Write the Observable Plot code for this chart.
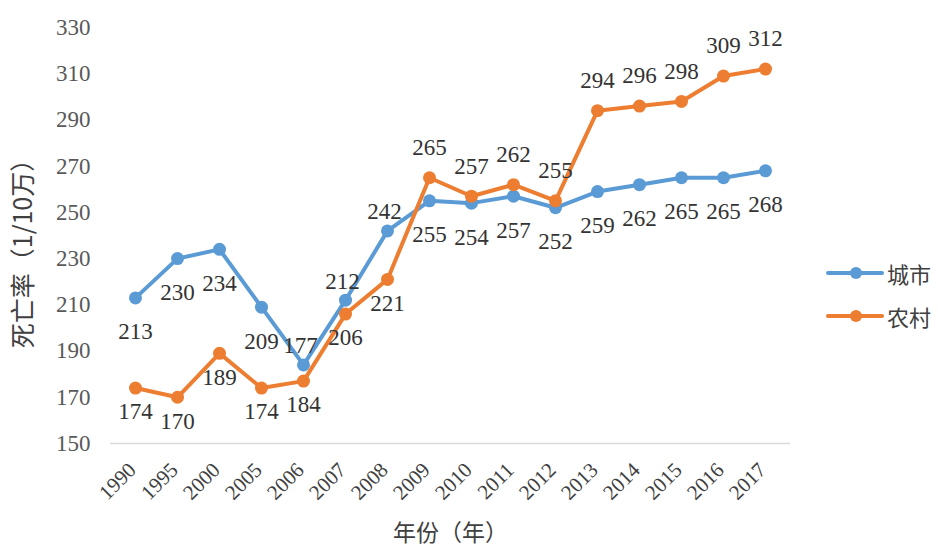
<!DOCTYPE html>
<html>
<head>
<meta charset="utf-8">
<script src="https://cdn.jsdelivr.net/npm/d3@7"></script>
<script src="https://cdn.jsdelivr.net/npm/@observablehq/plot@0.6"></script>
<style>
  body { margin: 0; background: #fff; }
  #wrap { position: relative; width: 938px; height: 550px; }
  .legend { position: absolute; left: 826px; font-family: "Noto Sans CJK SC", sans-serif; font-size: 22px; color: #404040; display: flex; align-items: center; }
  .legend svg { margin-right: 3px; }
</style>
</head>
<body>
<div id="wrap"></div>
<script>
// ---- data ----
const years = ["1990","1995","2000","2005","2006","2007","2008","2009","2010","2011","2012","2013","2014","2015","2016","2017"];
const seriesNames = ["城市", "农村"];
const city  = [213, 230, 234, 209, 184, 212, 242, 255, 254, 257, 252, 259, 262, 265, 265, 268];
const rural = [174, 170, 189, 174, 177, 206, 221, 265, 257, 262, 255, 294, 296, 298, 309, 312];
const cityLabels  = ["213","230","234","209","177","212","242","255","254","257","252","259","262","265","265","268"];
const ruralLabels = ["174","170","189","174","184","206","221","265","257","262","255","294","296","298","309","312"];
const yTicks = [150, 170, 190, 210, 230, 250, 270, 290, 310, 330];
const yTitle = "死亡率（1/10万）";
const xTitle = "年份（年）";
const colors = ["#5B9BD5", "#ED7D31"];

// ---- table ----
const rows = [];
years.forEach((y, i) => {
  rows.push({year: y, series: seriesNames[0], value: city[i], label: cityLabels[i]});
  rows.push({year: y, series: seriesNames[1], value: rural[i], label: ruralLabels[i]});
});
const cityAbove = new Set(["2006", "2007", "2008"]);
const ruralAbove = new Set(["2009","2010","2011","2012","2013","2014","2015","2016","2017"]);
const isCity = d => d.series === seriesNames[0];

const serif = "'Liberation Serif', 'Times New Roman', serif";
const cjk = "'Noto Sans CJK SC', sans-serif";
const labelFill = "#333333";

const chart = Plot.plot({
  width: 938,
  height: 550,
  marginLeft: 110,
  marginRight: 148,
  marginTop: 27,
  marginBottom: 107,
  style: {fontFamily: serif, background: "#fff"},
  x: {type: "point", domain: years, padding: 0.5, axis: null},
  y: {domain: [150, 330], axis: null},
  color: {domain: seriesNames, range: colors},
  marks: [
    Plot.ruleY([150], {stroke: "#d9d9d9", strokeWidth: 1.5}),
    Plot.axisY({ticks: yTicks, tickSize: 0, tickPadding: 20, fontSize: 23, fill: "#595959", label: null, fontFamily: serif}),
    Plot.text(years, {x: d => d, frameAnchor: "bottom", rotate: -45, textAnchor: "end", lineAnchor: "middle", dy: 23, dx: -3, fontSize: 21, fill: "#404040", fontFamily: serif}),
    Plot.text([yTitle], {frameAnchor: "left", textAnchor: "middle", rotate: -90, dx: -87, dy: 12, fontSize: 25, fill: "#404040", fontFamily: cjk}),
    Plot.text([xTitle], {frameAnchor: "bottom", textAnchor: "middle", dy: 97, fontSize: 23, fill: "#404040", fontFamily: cjk}),
    Plot.line(rows, {x: "year", y: "value", stroke: "series", z: "series", strokeWidth: 4, strokeLinejoin: "round", strokeLinecap: "round"}),
    Plot.dot(rows, {x: "year", y: "value", fill: "series", r: 6.5, stroke: "none"}),
    // city labels
    Plot.text(rows.filter(d => isCity(d) && !cityAbove.has(d.year)), {x: "year", y: "value", text: "label", dy: 34, fontSize: 23, fill: labelFill}),
    Plot.text(rows.filter(d => isCity(d) && cityAbove.has(d.year)), {x: "year", y: "value", text: "label", dy: -19, dx: -3, fontSize: 23, fill: labelFill}),
    // rural labels
    Plot.text(rows.filter(d => !isCity(d) && !ruralAbove.has(d.year)), {x: "year", y: "value", text: "label", dy: 24, fontSize: 23, fill: labelFill}),
    Plot.text(rows.filter(d => !isCity(d) && ruralAbove.has(d.year)), {x: "year", y: "value", text: "label", dy: -30, fontSize: 23, fill: labelFill})
  ]
});

const wrap = document.getElementById("wrap");
wrap.appendChild(chart);

// legend
const legendTops = [256, 299];
seriesNames.forEach((name, i) => {
  const item = document.createElement("div");
  item.className = "legend";
  item.style.top = legendTops[i] + "px";
  item.innerHTML = `<svg width="58" height="34"><line x1="2" y1="17" x2="56" y2="17" stroke="${colors[i]}" stroke-width="4" stroke-linecap="round"/><circle cx="30" cy="17" r="6" fill="${colors[i]}"/></svg><span>${name}</span>`;
  wrap.appendChild(item);
});
</script>
</body>
</html>
